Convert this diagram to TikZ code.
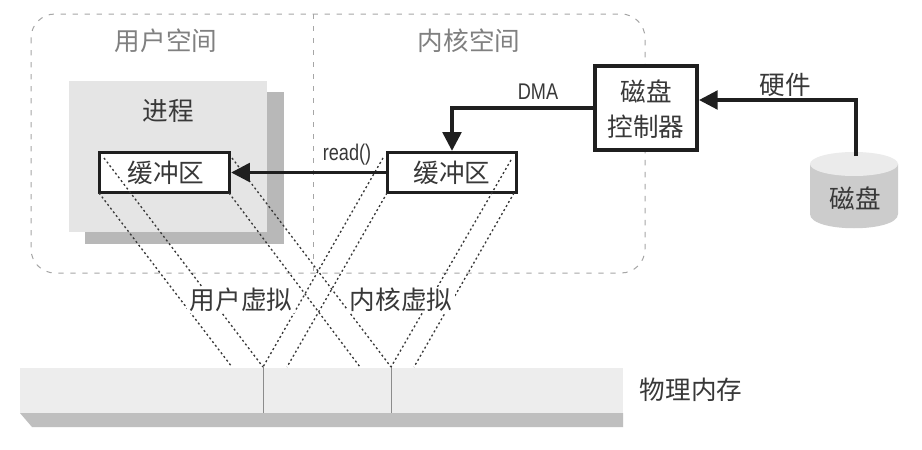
\documentclass[tikz,border=0pt]{standalone}
\usepackage{fontspec}
\setmainfont{Noto Sans CJK SC}
\newfontfamily\latinfont[FakeStretch=0.8]{Liberation Sans}
\usetikzlibrary{arrows.meta,calc}
\newcommand{\cjksize}{\fontsize{19.2pt}{23pt}\selectfont}
\tikzset{
  x=0.75pt,y=-0.75pt,
  every node/.style={inner sep=0pt,outer sep=0pt,font=\cjksize,text=black!78},
  spacebox/.style={draw=black!35,line width=0.75pt,dash pattern=on 4pt off 5pt},
  procbox/.style={fill=black!10,minimum width=148.5pt,minimum height=113.25pt},
  procshadow/.style={fill=black!28},
  bufbox/.style={draw=black!88,line width=2.4pt,minimum width=97pt,minimum height=29.5pt},
  ctrlbox/.style={draw=black!88,line width=2.4pt,fill=white,minimum width=76.5pt,minimum height=63pt,align=center},
  flow/.style={draw=black!88,line width=2.4pt,-{Triangle[length=14pt,width=14pt]},shorten >=1.5pt},
  maplink/.style={draw=black!78,line width=1pt,dash pattern=on 1.5pt off 2pt},
  maskedlabel/.style={fill=white,inner xsep=2pt,inner ysep=1pt},
  spacetitle/.style={text=black!50},
  smalllatin/.style={font=\latinfont\fontsize{17pt}{19pt}\selectfont,text=black!78},
  membar/.style={fill=black!7,minimum width=452.25pt,minimum height=33.75pt},
  memedge/.style={fill=black!25},
  memdivider/.style={draw=black!45,line width=0.7pt},
  diskbody/.style={fill=black!20},
  disktop/.style={fill=black!8}
}
\begin{document}
\begin{tikzpicture}
\useasboundingbox (0,0) rectangle (922,450);
\fill[white] (0,0) rectangle (922,450);

% user / kernel space outline
\draw[spacebox,rounded corners=18pt] (31,14) rectangle (645,273);
\coordinate (divtop) at (313,14);
\coordinate (divbot) at (313,273);
\draw[spacebox] (divtop) -- (divbot);
\node[spacetitle] (ustitle) at (166,41) {用户空间};
\node[spacetitle] (kstitle) at (469,41) {内核空间};

% process
\fill[procshadow] (85,92) rectangle (284,244);
\node[procbox] (proc) at (168,156.5) {};
\node (proclabel) at (168,111) {进程};

% buffers
\node[bufbox,fill=white] (ubuf) at (164.5,172.5) {};
\node[bufbox,fill=white] (kbuf) at (452,172.5) {};

% physical memory
\fill[memedge] (20,413) -- (623,413) -- (623,427) -- (32,427) -- cycle;
\node[membar] (mem) at (321.5,390.5) {};
\coordinate (ma) at (232,367);
\coordinate (mb) at (263,367);
\coordinate (mc) at (287,367);
\coordinate (md) at (360,367);
\coordinate (me) at (391,367);
\coordinate (mf) at (414,367);
\coordinate (mbb) at (263,413);
\coordinate (meb) at (391,413);
\draw[memdivider] (mb) -- (mbb);
\draw[memdivider] (me) -- (meb);
\node (memlabel) at (691,390) {物理内存};

% mapping lines
\coordinate (ua) at (99,193);
\coordinate (ub) at (104,158);
\coordinate (uc) at (229,193);
\coordinate (ud) at (232,158);
\coordinate (ka) at (383,158);
\coordinate (kb) at (387,193);
\coordinate (kc) at (511,160);
\coordinate (kd) at (514,193);
\draw[maplink] (ua) -- (ma);
\draw[maplink] (ub) -- (mb);
\draw[maplink] (uc) -- (md);
\draw[maplink] (ud) -- (me);
\draw[maplink] (ka) -- (mb);
\draw[maplink] (kb) -- (mc);
\draw[maplink] (kc) -- (me);
\draw[maplink] (kd) -- (mf);
\node[maskedlabel] (uvirt) at (241,300) {用户虚拟};
\node[maskedlabel] (kvirt) at (401,300) {内核虚拟};

\node (ubuflabel) at (166,173) {缓冲区};
\node (kbuflabel) at (452,173) {缓冲区};

% controller
\node[ctrlbox] (ctrl) at (646,108) {};
\node (ctrla) at (646,91) {磁盘};
\node (ctrlb) at (646,127) {控制器};

% disk
\fill[diskbody] (810,164) -- (810,214) .. controls (810,233) and (898,233) .. (898,214) -- (898,164) -- cycle;
\fill[disktop] (854,164) ellipse [x radius=44,y radius=12];
\node (disk) at (855,198) {磁盘};
\coordinate (disktopc) at (856,156);
\coordinate (ctrlin) at ($(ctrl.east)+(0,-8)$);

% flows
\draw[flow] (disktopc) |- (ctrlin);
\draw[flow] (ctrl.west) -| (kbuf.north);
\draw[flow] (kbuf.west) -- (ubuf.east);

\node (hwlabel) at (785,85) {硬件};
\node[smalllatin] (dmalabel) at (538,92) {DMA};
\node[smalllatin] (readlabel) at (347,155) {read()};
\end{tikzpicture}
\end{document}
